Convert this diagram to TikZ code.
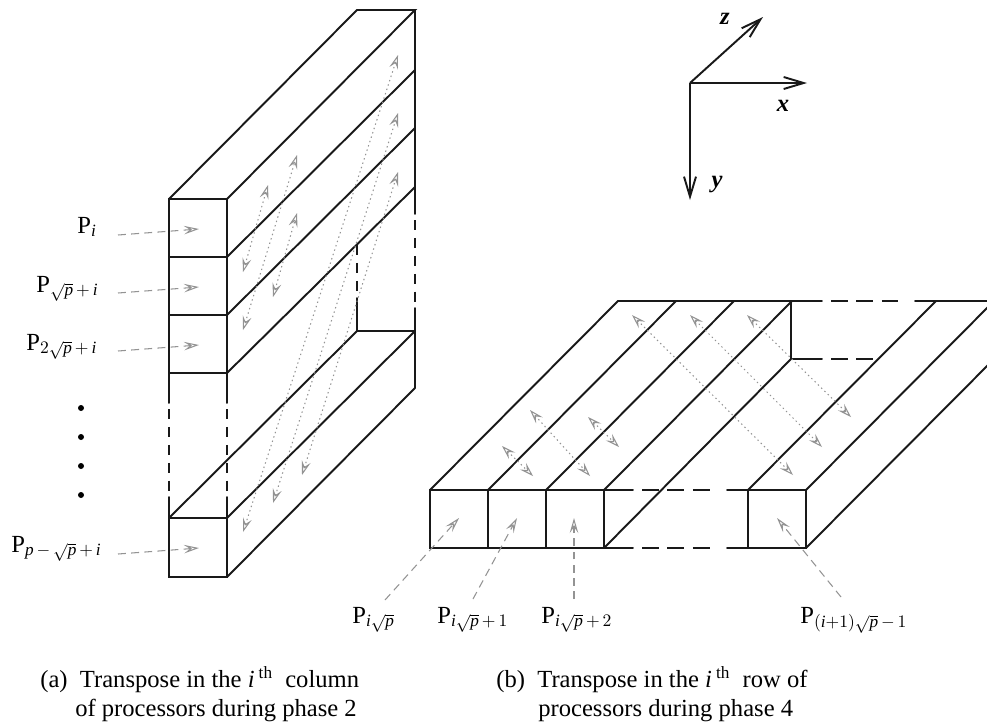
\documentclass[tikz,border=0pt]{standalone}
\usepackage{fontspec}
\setmainfont{Liberation Serif}
\usetikzlibrary{arrows.meta}
\newcommand{\rp}{\sqrt{\mathit{p}}}
\newcommand{\itv}{\mathit{i}}
\tikzset{
  x=0.02cm, y=-0.02cm,
  wall/.style={line width=1.1pt, black!90, line cap=round},
  gapline/.style={wall, line cap=butt, dash pattern=on 5.6pt off 4.6pt},
  gaprow/.style={wall, line cap=butt, dash pattern=on 9.5pt off 5pt},
  leader/.style={line width=0.6pt, gray!85, dash pattern=on 4.5pt off 3pt, -{Stealth[open, length=3mm, width=1.7mm, inset=1.2mm]}},
  swap/.style={line width=0.6pt, gray!85, dash pattern=on 0.8pt off 1.8pt, {Stealth[open, length=2.8mm, width=1.8mm, inset=1.1mm]}-{Stealth[open, length=2.8mm, width=1.8mm, inset=1.1mm]}},
  axis_arrow/.style={line width=1.1pt, black!90, -{Straight Barb[length=4mm, width=2.4mm]}},
  dot_mark/.style={circle, fill=black, inner sep=0pt, minimum size=0.12cm},
  proc_label/.style={font=\fontsize{14}{16}\selectfont, anchor=base west, inner sep=0pt},
  axis_label/.style={font=\bfseries\itshape\fontsize{14}{16}\selectfont},
  caption_text/.style={font=\fontsize{14}{16.5}\selectfont, align=left, anchor=north west, inner sep=0pt}
}
\begin{document}
\begin{tikzpicture}
  \useasboundingbox (0,0) rectangle (987,724);

  % Column of processors
  \draw[wall] (169,403) -- (169,199) -- (227,199) -- (227,403);
  \draw[wall] (169,497) -- (169,577) -- (227,577) -- (227,497);
  \draw[wall] (169,257) -- (227,257) (169,315) -- (227,315) (169,373) -- (227,373) (169,518) -- (227,518);
  \draw[gapline] (169,409) -- (169,492) (227,409) -- (227,492);

  \draw[wall] (169,199) -- (357,10) -- (415,10) -- (227,199);
  \foreach \y/\yy in {257/70, 315/128, 373/187} {
    \draw[wall] (227,\y) -- (415,\yy);
  }
  \draw[wall] (415,10) -- (415,214) (415,308) -- (415,388);
  \draw[gapline] (415,220) -- (415,304);
  \draw[gapline] (357,245) -- (357,295);
  \draw[wall] (357,298) -- (357,331) -- (415,331);
  \draw[wall] (169,518) -- (357,331) (227,518) -- (415,331) (227,577) -- (415,388);

  % Swaps along z
  \draw[swap] (243,272) -- (268,185);
  \draw[swap] (243,330) -- (297,155);
  \draw[swap] (273,297) -- (297,213);
  \draw[swap] (243,532) -- (398,55);
  \draw[swap] (273,503) -- (398,113);
  \draw[swap] (302,475) -- (398,172);

  % Labels of the column
  \node[proc_label] (p_one) at (77,233) {P$_{\itv}$};
  \node[proc_label] (p_two) at (36,292) {P$_{\rp\,+\,\itv}$};
  \node[proc_label] (p_three) at (26,350) {P$_{2\rp\,+\,\itv}$};
  \node[proc_label] (p_last) at (11,552) {P$_{\mathit{p}\,-\,\rp\,+\,\itv}$};
  \foreach \y in {235, 293, 351, 554} {
    \draw[leader] (118,\y) -- (199,\y-6);
  }
  \foreach \y in {408, 437, 466, 495} {
    \node[dot_mark] (dot\y) at (81,\y) {};
  }

  % Row of processors
  \draw[wall] (430,490) rectangle (604,548);
  \draw[wall] (488,490) -- (488,548) (546,490) -- (546,548);
  \draw[wall] (748,490) rectangle (806,548);
  \draw[wall] (604,490) -- (633,490) (604,548) -- (633,548) (748,490) -- (727,490) (748,548) -- (727,548);
  \draw[gaprow] (642,490) -- (710,490) (642,548) -- (710,548);

  \draw[wall] (430,490) -- (618,301) -- (822,301) (915,301) -- (994,301);
  \draw[gaprow] (831,301) -- (898,301);
  \foreach \x in {488, 546, 604, 748, 806} {
    \draw[wall] (\x,490) -- (\x+188,301);
  }
  \draw[wall] (791,301) -- (791,359) -- (822,359);
  \draw[gaprow] (831,359) -- (875,359);
  \draw[wall] (604,548) -- (791,359) (806,548) -- (994,359);

  % Swaps along x
  \draw[swap] (502,446) -- (533,476);
  \draw[swap] (530,410) -- (590,476);
  \draw[swap] (588,417) -- (619,447);
  \draw[swap] (632,315) -- (793,475);
  \draw[swap] (690,315) -- (822,447);
  \draw[swap] (747,315) -- (851,417);

  % Labels of the row
  \draw[leader] (385,600) -- (459,518);
  \draw[leader] (473,599) -- (517,518);
  \draw[leader] (574,599) -- (574,518);
  \draw[leader] (841,597) -- (777,518);
  \node[proc_label] (q_one) at (352,623) {P$_{\itv\rp}$};
  \node[proc_label] (q_two) at (437,623) {P$_{\itv\rp\,+\,1}$};
  \node[proc_label] (q_three) at (541,623) {P$_{\itv\rp\,+\,2}$};
  \node[proc_label] (q_last) at (800,623) {P$_{(\itv+1)\rp\,-\,1}$};

  % Axes
  \coordinate (origin) at (690,83);
  \coordinate (ztip) at (763,17);
  \coordinate (xtip) at (807,83);
  \coordinate (ytip) at (690,200);
  \draw[axis_arrow] (origin) -- (ztip);
  \draw[axis_arrow] (origin) -- (xtip);
  \draw[axis_arrow] (origin) -- (ytip);
  \node[axis_label] (zlabel) at (725,19) {z};
  \node[axis_label] (xlabel) at (783,106) {x};
  \node[axis_label] (ylabel) at (717,185) {y};

  % Captions
  \node[caption_text] (capa) at (40,666) {(a)\ \ Transpose in the \textit{i}\,$^{\mathrm{th}}$\ \ column\\\hspace{19.9pt}of processors during phase 2};
  \node[caption_text] (capb) at (496,666) {(b)\ \ Transpose in the \textit{i}\,$^{\mathrm{th}}$\ \ row of\\\hspace{23.9pt}processors during phase 4};
\end{tikzpicture}
\end{document}
